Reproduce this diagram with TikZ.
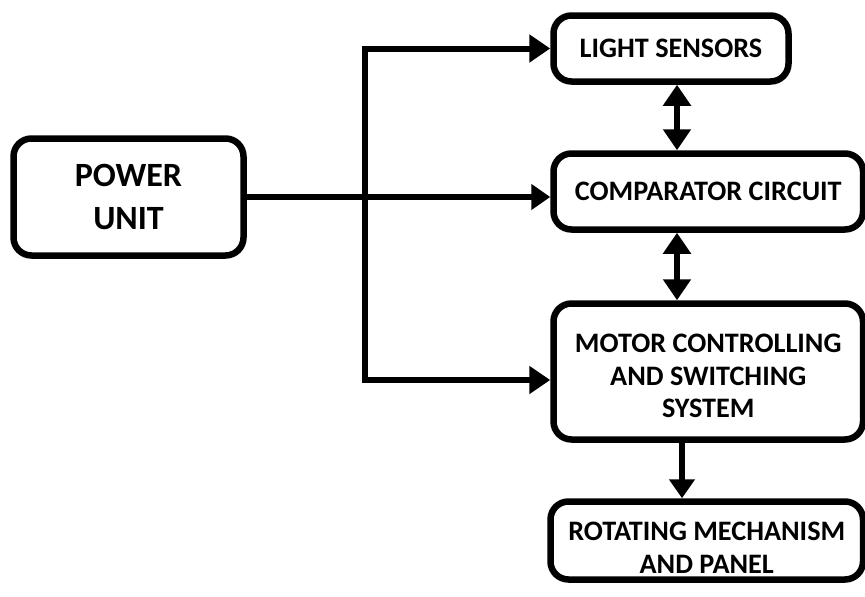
\documentclass[tikz,border=0pt]{standalone}
\usepackage{fontspec}
\setmainfont{Carlito}
\usetikzlibrary{arrows.meta}

\begin{document}
\begin{tikzpicture}[x=1pt, y=-1pt,
  block/.style={draw, line width=6.5pt, rounded corners=18pt, align=center,
    inner sep=0pt, font=\bfseries\fontsize{28.2}{32.5}\selectfont},
  link/.style={line width=6pt, line join=miter, -{Triangle[length=19pt, width=25pt]}},
  dbl/.style={line width=6pt, line join=miter,
    {Triangle[length=21pt, width=27pt]}-{Triangle[length=21pt, width=27pt]}}]
  \useasboundingbox (0,0) rectangle (865,597);
  % Blocks
  \node[block, minimum width=230pt, minimum height=117pt,
    font=\bfseries\fontsize{34}{43}\selectfont] (power) at (128.5,197) {POWER\\UNIT};
  \node[block, minimum width=235pt, minimum height=66pt] (ls) at (671,48.5) {LIGHT SENSORS};
  \node[block, minimum width=309.5pt, minimum height=76pt] (cmp) at (708.25,191.5) {COMPARATOR CIRCUIT};
  \node[block, minimum width=309.5pt, minimum height=136pt]
    (mcs) at (708.25,371.5) {\rule{0pt}{28pt}MOTOR CONTROLLING\\AND SWITCHING\\SYSTEM};
  \node[block, minimum width=312.5pt, minimum height=78pt]
    (rot) at (706.75,540.5) {\rule{0pt}{33pt}ROTATING MECHANISM\\AND PANEL};
  % Supply bus
  \coordinate (bus) at (365,0);
  \coordinate (axis) at (677,0);
  \coordinate (drop) at (682,0);
  \coordinate (mcsin) at ([yshift=-8.5pt]mcs.west);
  \draw[dbl] (ls.west) -- (ls.west -| bus) -- (mcsin -| bus) -- (mcsin);
  \draw[link] (power.east) -- (power.east -| cmp.west);
  % Signal path
  \foreach \a/\b in {ls/cmp, cmp/mcs} {
    \draw[dbl] (\a.south -| axis) -- (\b.north -| axis);
  }
  \draw[link] (mcs.south -| drop) -- (rot.north -| drop);
\end{tikzpicture}
\end{document}
